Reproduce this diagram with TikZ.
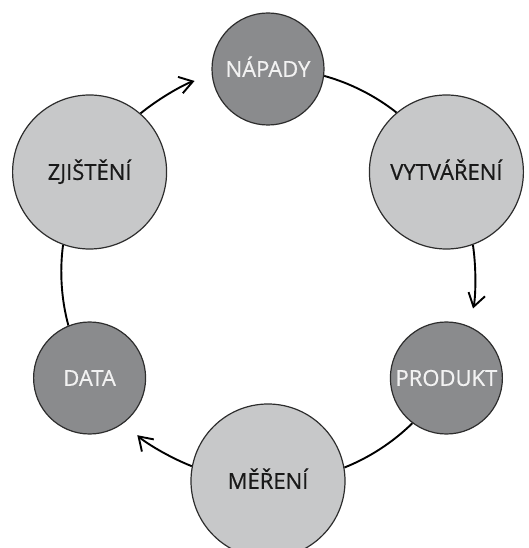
\documentclass[tikz,border=0pt]{standalone}
\usepackage{fontspec}
\setmainfont{Open Sans}
\newfontfamily\bubfont{Open Sans}[FakeBold=0.6]
\usetikzlibrary{arrows.meta}
\definecolor{darkfill}{RGB}{138,139,141}
\definecolor{lightfill}{RGB}{199,200,201}
\definecolor{ring}{RGB}{45,45,45}
\begin{document}
\begin{tikzpicture}[x=1pt,y=1pt,
  bubble/.style={circle, draw=ring, line width=1.2pt, inner sep=0pt,
    font=\bubfont\fontsize{22}{22}\selectfont, text height=15.7pt, text depth=0pt},
  darkbub/.style={bubble, fill=darkfill, minimum size=112pt, text=white!95!black},
  lightbub/.style={bubble, fill=lightfill, minimum size=154pt, text=black!90},
  conn/.style={line width=1.9pt, black},
  arr/.style={conn, -{Straight Barb[length=13pt,width=17pt]}, shorten >=18pt}]
\useasboundingbox (-268,-273) rectangle (260,275);
\node[darkbub]  (nap)  at (90:206pt)  {NÁPADY};
\node[lightbub] (vyt)  at (30:206pt)  {VYTVÁŘENÍ};
\node[darkbub]  (prod) at (-30:206pt) {PRODUKT};
\node[lightbub] (mer)  at (-90:206pt) {MĚŘENÍ};
\node[darkbub]  (data) at (210:206pt) {DATA};
\node[lightbub] (zj)   at (150:206pt) {ZJIŠTĚNÍ};
\draw[arr]  (zj.49.25)   to[bend left=11.45, looseness=0.85] (nap.187.8);
\draw[conn] (nap.-7.8)   to[bend left=11.45, looseness=0.85] (vyt.130.75);
\draw[arr]  (vyt.-70.75) to[bend left=11.45, looseness=0.85] (prod.67.8);
\draw[conn] (prod.-127.8) to[bend left=11.45, looseness=0.85] (mer.10.75);
\draw[arr]  (mer.169.25) to[bend left=11.45, looseness=0.85] (data.-52.2);
\draw[conn] (data.112.2) to[bend left=11.45, looseness=0.85] (zj.250.75);
\end{tikzpicture}
\end{document}
